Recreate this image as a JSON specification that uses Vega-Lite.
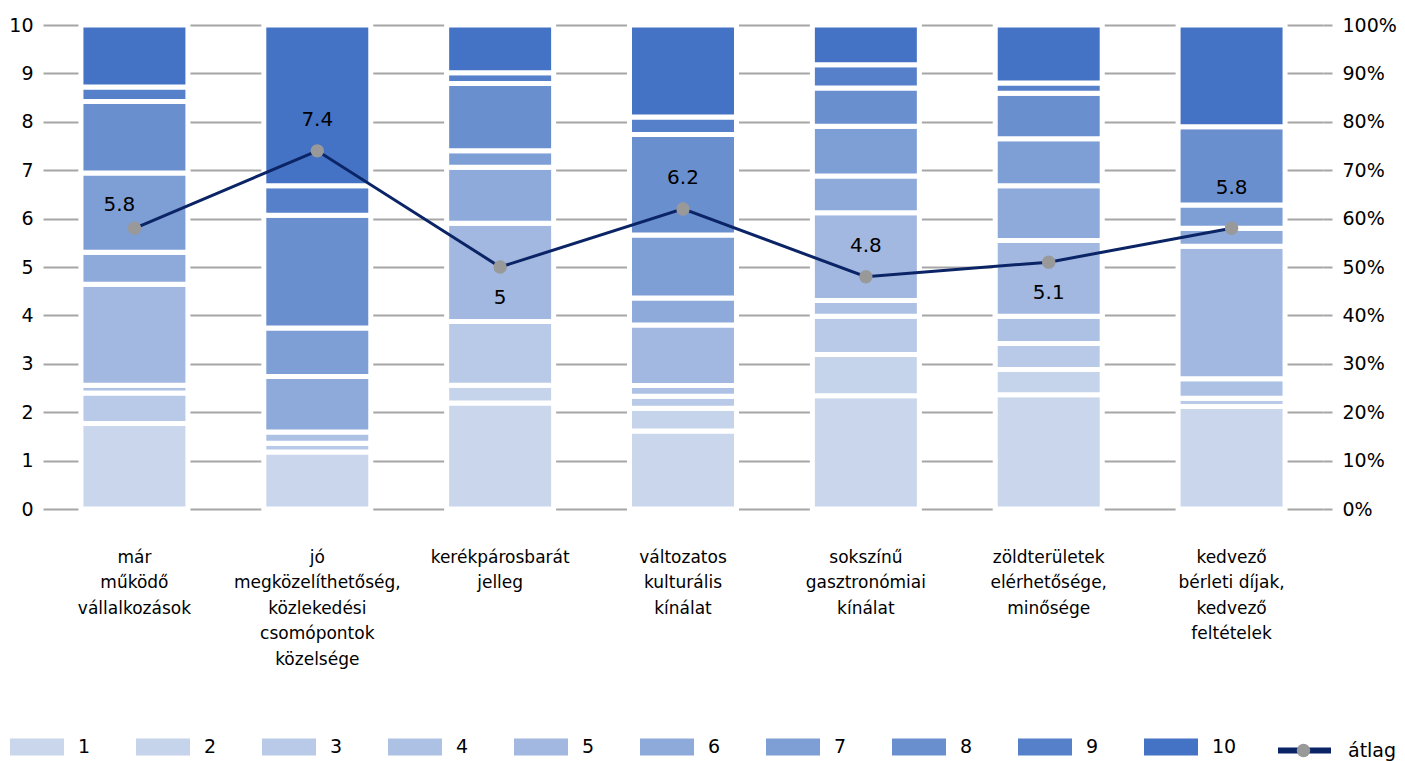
{
  "$schema": "https://vega.github.io/schema/vega-lite/v6.json",
  "width": 1280,
  "height": 484,
  "autosize": {"type": "none"},
  "padding": {"left": 43, "top": 25, "right": 82, "bottom": 252},
  "background": "white",
  "config": {
    "view": {"stroke": null},
    "font": "DejaVu Sans",
    "axis": {"domain": false, "ticks": false, "labelColor": "#000000", "labelFontSize": 19, "grid": false, "title": null},
    "legend": {"labelColor": "#000000", "labelFontSize": 19, "padding": 0}
  },
  "datasets": {
    "seg": [
      {"cat": "már működő vállalkozások", "rating": 1, "pct": 17.7},
      {"cat": "már működő vállalkozások", "rating": 3, "pct": 6.3},
      {"cat": "már működő vállalkozások", "rating": 4, "pct": 1.6},
      {"cat": "már működő vállalkozások", "rating": 5, "pct": 20.9},
      {"cat": "már működő vállalkozások", "rating": 6, "pct": 6.6},
      {"cat": "már működő vállalkozások", "rating": 7, "pct": 16.4},
      {"cat": "már működő vállalkozások", "rating": 8, "pct": 14.8},
      {"cat": "már működő vállalkozások", "rating": 9, "pct": 3.0},
      {"cat": "már működő vállalkozások", "rating": 10, "pct": 12.8},
      {"cat": "jó megközelíthetőség, közlekedési csomópontok közelsége", "rating": 1, "pct": 11.8},
      {"cat": "jó megközelíthetőség, közlekedési csomópontok közelsége", "rating": 3, "pct": 1.8},
      {"cat": "jó megközelíthetőség, közlekedési csomópontok közelsége", "rating": 4, "pct": 2.3},
      {"cat": "jó megközelíthetőség, közlekedési csomópontok közelsége", "rating": 6, "pct": 11.5},
      {"cat": "jó megközelíthetőség, közlekedési csomópontok közelsége", "rating": 7, "pct": 10.0},
      {"cat": "jó megközelíthetőség, közlekedési csomópontok közelsége", "rating": 8, "pct": 23.3},
      {"cat": "jó megközelíthetőség, közlekedési csomópontok közelsége", "rating": 9, "pct": 6.1},
      {"cat": "jó megközelíthetőség, közlekedési csomópontok közelsége", "rating": 10, "pct": 33.2},
      {"cat": "kerékpárosbarát jelleg", "rating": 1, "pct": 21.9},
      {"cat": "kerékpárosbarát jelleg", "rating": 2, "pct": 3.7},
      {"cat": "kerékpárosbarát jelleg", "rating": 3, "pct": 13.2},
      {"cat": "kerékpárosbarát jelleg", "rating": 5, "pct": 20.3},
      {"cat": "kerékpárosbarát jelleg", "rating": 6, "pct": 11.6},
      {"cat": "kerékpárosbarát jelleg", "rating": 7, "pct": 3.4},
      {"cat": "kerékpárosbarát jelleg", "rating": 8, "pct": 13.9},
      {"cat": "kerékpárosbarát jelleg", "rating": 9, "pct": 2.2},
      {"cat": "kerékpárosbarát jelleg", "rating": 10, "pct": 9.9},
      {"cat": "változatos kulturális kínálat", "rating": 1, "pct": 16.1},
      {"cat": "változatos kulturális kínálat", "rating": 2, "pct": 4.7},
      {"cat": "változatos kulturális kínálat", "rating": 3, "pct": 2.5},
      {"cat": "változatos kulturális kínálat", "rating": 4, "pct": 2.2},
      {"cat": "változatos kulturális kínálat", "rating": 5, "pct": 12.5},
      {"cat": "változatos kulturális kínálat", "rating": 6, "pct": 5.6},
      {"cat": "változatos kulturális kínálat", "rating": 7, "pct": 13.0},
      {"cat": "változatos kulturális kínálat", "rating": 8, "pct": 20.8},
      {"cat": "változatos kulturális kínálat", "rating": 9, "pct": 3.6},
      {"cat": "változatos kulturális kínálat", "rating": 10, "pct": 19.0},
      {"cat": "sokszínű gasztronómiai kínálat", "rating": 1, "pct": 23.4},
      {"cat": "sokszínű gasztronómiai kínálat", "rating": 2, "pct": 8.5},
      {"cat": "sokszínű gasztronómiai kínálat", "rating": 3, "pct": 7.9},
      {"cat": "sokszínű gasztronómiai kínálat", "rating": 4, "pct": 3.3},
      {"cat": "sokszínű gasztronómiai kínálat", "rating": 5, "pct": 18.1},
      {"cat": "sokszínű gasztronómiai kínálat", "rating": 6, "pct": 7.6},
      {"cat": "sokszínű gasztronómiai kínálat", "rating": 7, "pct": 10.3},
      {"cat": "sokszínű gasztronómiai kínálat", "rating": 8, "pct": 7.9},
      {"cat": "sokszínű gasztronómiai kínálat", "rating": 9, "pct": 4.8},
      {"cat": "sokszínű gasztronómiai kínálat", "rating": 10, "pct": 8.2},
      {"cat": "zöldterületek elérhetősége, minősége", "rating": 1, "pct": 23.6},
      {"cat": "zöldterületek elérhetősége, minősége", "rating": 2, "pct": 5.2},
      {"cat": "zöldterületek elérhetősége, minősége", "rating": 3, "pct": 5.4},
      {"cat": "zöldterületek elérhetősége, minősége", "rating": 4, "pct": 5.6},
      {"cat": "zöldterületek elérhetősége, minősége", "rating": 5, "pct": 15.7},
      {"cat": "zöldterületek elérhetősége, minősége", "rating": 6, "pct": 11.3},
      {"cat": "zöldterületek elérhetősége, minősége", "rating": 7, "pct": 9.7},
      {"cat": "zöldterületek elérhetősége, minősége", "rating": 8, "pct": 9.4},
      {"cat": "zöldterületek elérhetősége, minősége", "rating": 9, "pct": 2.1},
      {"cat": "zöldterületek elérhetősége, minősége", "rating": 10, "pct": 12.0},
      {"cat": "kedvező bérleti\u00a0díjak, kedvező feltételek", "rating": 1, "pct": 21.2},
      {"cat": "kedvező bérleti\u00a0díjak, kedvező feltételek", "rating": 3, "pct": 1.7},
      {"cat": "kedvező bérleti\u00a0díjak, kedvező feltételek", "rating": 4, "pct": 4.0},
      {"cat": "kedvező bérleti\u00a0díjak, kedvező feltételek", "rating": 5, "pct": 27.4},
      {"cat": "kedvező bérleti\u00a0díjak, kedvező feltételek", "rating": 6, "pct": 3.7},
      {"cat": "kedvező bérleti\u00a0díjak, kedvező feltételek", "rating": 7, "pct": 4.8},
      {"cat": "kedvező bérleti\u00a0díjak, kedvező feltételek", "rating": 8, "pct": 16.2},
      {"cat": "kedvező bérleti\u00a0díjak, kedvező feltételek", "rating": 10, "pct": 21.0}
    ],
    "avg": [
      {"cat": "már működő vállalkozások", "avg": 5.8},
      {"cat": "jó megközelíthetőség, közlekedési csomópontok közelsége", "avg": 7.4},
      {"cat": "kerékpárosbarát jelleg", "avg": 5.0},
      {"cat": "változatos kulturális kínálat", "avg": 6.2},
      {"cat": "sokszínű gasztronómiai kínálat", "avg": 4.8},
      {"cat": "zöldterületek elérhetősége, minősége", "avg": 5.1},
      {"cat": "kedvező bérleti\u00a0díjak, kedvező feltételek", "avg": 5.8}
    ]
  },
  "encoding": {
    "x": {
      "field": "cat",
      "type": "nominal",
      "sort": [
        "már működő vállalkozások",
        "jó megközelíthetőség, közlekedési csomópontok közelsége",
        "kerékpárosbarát jelleg",
        "változatos kulturális kínálat",
        "sokszínű gasztronómiai kínálat",
        "zöldterületek elérhetősége, minősége",
        "kedvező bérleti\u00a0díjak, kedvező feltételek"
      ],
      "scale": {"paddingInner": 0.415, "paddingOuter": 0.2075},
      "axis": {
        "title": null,
        "labelAngle": 0,
        "labelExpr": "split(datum.label, ' ')",
        "labelFontSize": 17,
        "labelLineHeight": 25.5,
        "labelBaseline": "top",
        "labelPadding": 40,
        "labelLimit": 400
      }
    }
  },
  "layer": [
    {
      "data": {"name": "seg"},
      "mark": {"type": "bar", "stroke": "white", "strokeWidth": 5},
      "encoding": {
        "y": {
          "field": "pct",
          "type": "quantitative",
          "stack": "normalize",
          "scale": {"domain": [0, 1]},
          "axis": {
            "orient": "right",
            "title": null,
            "values": [0, 0.1, 0.2, 0.3, 0.4, 0.5, 0.6, 0.7, 0.8, 0.9, 1],
            "format": ".0%",
            "labelAlign": "left",
            "ticks": true,
            "tickSize": 9,
            "tickColor": "#a6a6a6",
            "tickWidth": 2,
            "labelPadding": 10,
            "grid": false
          }
        },
        "color": {
          "field": "rating",
          "type": "ordinal",
          "scale": {
            "domain": [1, 2, 3, 4, 5, 6, 7, 8, 9, 10],
            "range": ["#c9d6ec", "#c6d4eb", "#b8cae8", "#adc1e4", "#a2b8e0", "#8eaadb", "#7e9fd6", "#6a8fcf", "#5680ca", "#4472c4"]
          },
          "legend": {
            "title": null,
            "orient": "none",
            "legendX": -33,
            "legendY": 695,
            "direction": "horizontal",
            "columns": 10,
            "gridAlign": "all",
            "columnPadding": 33,
            "symbolType": "M-1,-0.315H1V0.315H-1Z",
            "symbolSize": 2916,
            "symbolStrokeWidth": 0,
            "labelOffset": 14
          }
        },
        "order": {"field": "rating", "type": "quantitative", "sort": "ascending"}
      }
    },
    {
      "data": {"name": "avg"},
      "encoding": {
        "y": {
          "field": "avg",
          "type": "quantitative",
          "scale": {"domain": [0, 10]},
          "axis": {
            "orient": "left",
            "title": null,
            "values": [0, 1, 2, 3, 4, 5, 6, 7, 8, 9, 10],
            "grid": true,
            "gridColor": "#a6a6a6",
            "gridWidth": 2,
            "labelPadding": 10
          }
        }
      },
      "layer": [
        {
          "mark": {"type": "line", "strokeWidth": 3},
          "encoding": {
            "stroke": {
              "datum": "átlag",
              "type": "nominal",
              "scale": {"range": ["#0b2466"]},
              "legend": {
                "title": null,
                "orient": "none",
                "legendX": 1232,
                "legendY": 696,
                "symbolType": "M-1,0H1",
                "symbolSize": 2809,
                "symbolStrokeWidth": 6,
                "labelOffset": 14
              }
            }
          }
        },
        {
          "mark": {"type": "point", "filled": true, "size": 180, "opacity": 1},
          "encoding": {
            "fill": {
              "datum": "pont",
              "type": "nominal",
              "scale": {"range": ["#999999"]},
              "legend": {
                "title": null,
                "orient": "none",
                "legendX": 1251,
                "legendY": 716,
                "symbolType": "circle",
                "symbolSize": 180,
                "symbolStrokeWidth": 0,
                "labelExpr": "''"
              }
            }
          }
        },
        {
          "transform": [{"filter": "indexof(['jó megközelíthetőség, közlekedési csomópontok közelsége', 'változatos kulturális kínálat', 'sokszínű gasztronómiai kínálat'], datum.cat) >= 0"}],
          "mark": {"type": "text", "dy": -31, "fontSize": 20, "color": "#000000"},
          "encoding": {"text": {"field": "avg", "type": "quantitative", "format": ".1~f"}}
        },
        {
          "transform": [{"filter": "datum.cat == 'már működő vállalkozások'"}],
          "mark": {"type": "text", "dy": -23, "dx": -15, "fontSize": 20, "color": "#000000"},
          "encoding": {"text": {"field": "avg", "type": "quantitative", "format": ".1~f"}}
        },
        {
          "transform": [{"filter": "indexof(datum.cat, 'kedvező') == 0"}],
          "mark": {"type": "text", "dy": -40, "fontSize": 20, "color": "#000000"},
          "encoding": {"text": {"field": "avg", "type": "quantitative", "format": ".1~f"}}
        },
        {
          "transform": [{"filter": "indexof(['kerékpárosbarát jelleg', 'zöldterületek elérhetősége, minősége'], datum.cat) >= 0"}],
          "mark": {"type": "text", "dy": 31, "fontSize": 20, "color": "#000000"},
          "encoding": {"text": {"field": "avg", "type": "quantitative", "format": ".1~f"}}
        }
      ]
    }
  ],
  "resolve": {"scale": {"y": "independent"}}
}
